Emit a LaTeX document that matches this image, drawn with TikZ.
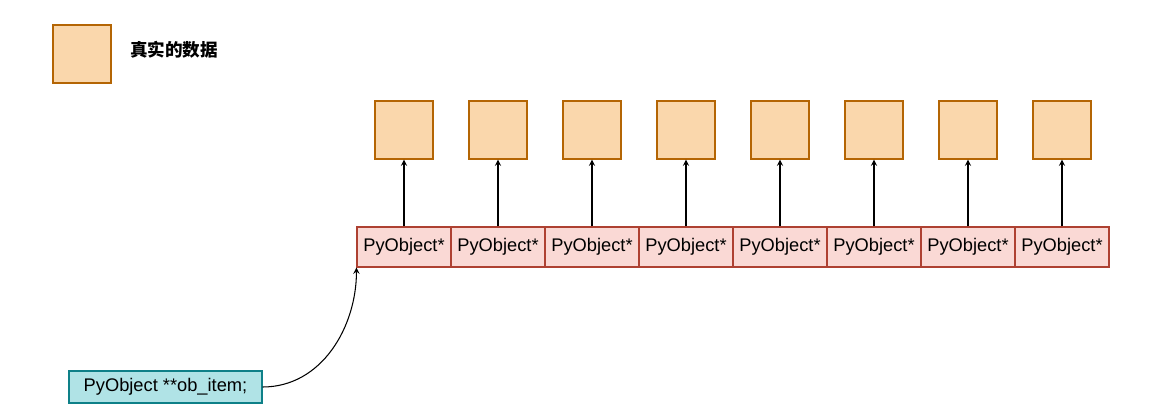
\documentclass[tikz,border=0pt]{standalone}
\usepackage{fontspec}
\setmainfont{Liberation Sans}
\newfontfamily\cjk{Noto Sans CJK SC}
\usepackage{tikz}
\usetikzlibrary{arrows}
\definecolor{datafill}{HTML}{FAD7AC}
\definecolor{datadraw}{HTML}{B46504}
\definecolor{cellfill}{HTML}{FAD9D5}
\definecolor{celldraw}{HTML}{AE4132}
\definecolor{ptrfill}{HTML}{B0E3E6}
\definecolor{ptrdraw}{HTML}{0E8088}
\tikzstyle{data} = [rectangle, draw=datadraw, line width=0.6pt, fill=datafill, inner sep=0pt, minimum width=1.16cm, minimum height=1.16cm]
\tikzstyle{cell} = [rectangle, text centered, draw=celldraw, line width=0.6pt, fill=cellfill, inner sep=0pt, minimum width=1.88cm, minimum height=0.8cm, font=\fontsize{10.4}{12}\selectfont]
\tikzstyle{pointer} = [rectangle, text centered, draw=ptrdraw, line width=0.6pt, fill=ptrfill, inner sep=0pt, minimum width=3.86cm, minimum height=0.64cm, font=\fontsize{10.4}{12}\selectfont]
\tikzstyle{arrow} = [line width=0.6pt, ->, >=stealth]

\begin{document}
\begin{tikzpicture}[node distance=1.88cm]
\useasboundingbox (0,0) rectangle (23.34,-8.1);

\node (legend) [data] at (1.64,-1.08) {};
\node (legendtext) at (3.48,-1.0) {\cjk\fontsize{10}{12}\selectfont\bfseries 真实的数据};

\node (cell1) [cell] at (8.08,-4.94) {PyObject*};
\node (cell2) [cell, right of=cell1] {PyObject*};
\node (cell3) [cell, right of=cell2] {PyObject*};
\node (cell4) [cell, right of=cell3] {PyObject*};
\node (cell5) [cell, right of=cell4] {PyObject*};
\node (cell6) [cell, right of=cell5] {PyObject*};
\node (cell7) [cell, right of=cell6] {PyObject*};
\node (cell8) [cell, right of=cell7] {PyObject*};

\node (obj1) [data, above of=cell1, yshift=0.46cm] {};
\node (obj2) [data, above of=cell2, yshift=0.46cm] {};
\node (obj3) [data, above of=cell3, yshift=0.46cm] {};
\node (obj4) [data, above of=cell4, yshift=0.46cm] {};
\node (obj5) [data, above of=cell5, yshift=0.46cm] {};
\node (obj6) [data, above of=cell6, yshift=0.46cm] {};
\node (obj7) [data, above of=cell7, yshift=0.46cm] {};
\node (obj8) [data, above of=cell8, yshift=0.46cm] {};

\node (obitem) [pointer] at (3.31,-7.74) {PyObject **ob\_item;};

\draw [arrow] (cell1) -- (obj1);
\draw [arrow] (cell2) -- (obj2);
\draw [arrow] (cell3) -- (obj3);
\draw [arrow] (cell4) -- (obj4);
\draw [arrow] (cell5) -- (obj5);
\draw [arrow] (cell6) -- (obj6);
\draw [arrow] (cell7) -- (obj7);
\draw [arrow] (cell8) -- (obj8);

\draw [arrow] (obitem.east) to [out=0,in=270] (cell1.south west);

\end{tikzpicture}
\end{document}
